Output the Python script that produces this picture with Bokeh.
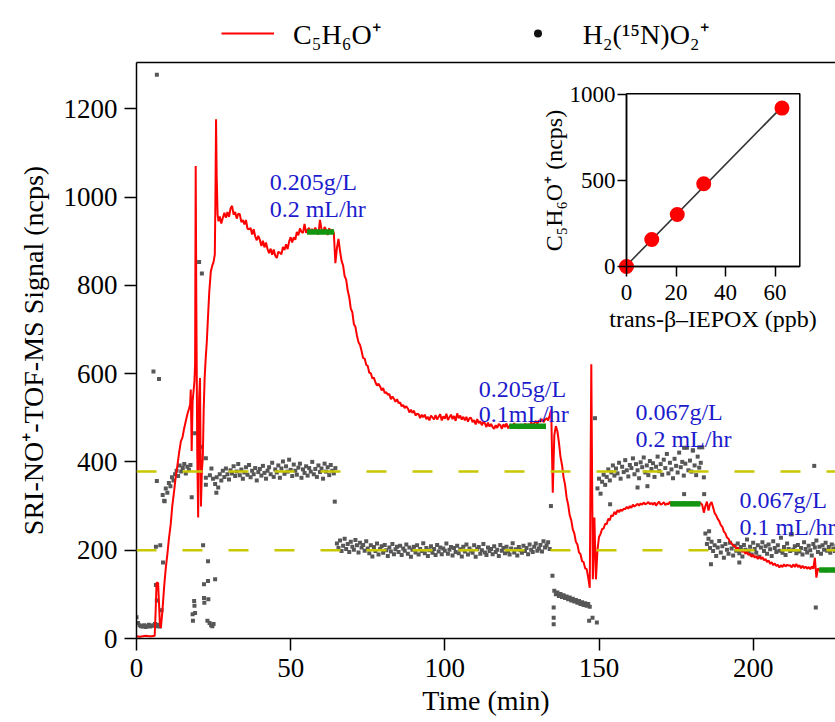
import numpy as np
from bokeh.plotting import figure
from bokeh.layouts import column
from bokeh.models import Range1d, LinearAxis, FixedTicker, Legend, LegendItem, Span
from bokeh.core.properties import value
from bokeh.embed import file_html
from bokeh.resources import INLINE

FONT = "Liberation Serif"

# ---------------- data ----------------
x_ticks = [0, 50, 100, 150, 200]
y_ticks = [0, 200, 400, 600, 800, 1000, 1200]
inset_x_ticks = [0, 20, 40, 60]
inset_y_ticks = [0, 500, 1000]

# C5H6O+ signal (red line)
red_early_t = [0, 1, 2, 3, 4, 5, 5.9, 6.2, 6.5, 7.0, 7.3, 7.6, 7.9, 8.4, 9.0, 9.5, 10.0, 10.5,
               11.1, 11.6, 12.2, 12.7, 13.3, 13.8, 14.4, 14.9, 15.4, 15.9, 16.5, 17.0, 17.4,
               17.6, 17.9, 18.2, 18.5, 18.8, 19.0, 19.2, 19.4, 19.7, 20.0, 20.3, 20.6, 20.9,
               21.2, 21.5, 21.8, 22.1, 22.4, 22.8, 23.2, 23.6, 24.1, 24.6, 25.0, 25.4, 25.6,
               25.8, 26.0, 26.3, 26.6]
red_early_v = [5, 4, 5, 6, 5, 5, 6, 60, 126, 126, 80, 30, 24, 62, 120, 160, 190, 225,
               259, 300, 334, 365, 394, 420, 447, 455, 474, 490, 508, 520, 530,
               564, 425, 538, 560, 583, 620, 1070, 760, 420, 274, 544, 590, 299,
               380, 408, 520, 589, 630, 672, 730, 785, 831, 845, 853, 870, 1000,
               1176, 1050, 960, 945]
red_main_start = 27.0
red_step = 0.5
red_main_v = [
    956, 940, 953, 964, 953, 966, 955, 974, 980, 960, 966, 951, 962, 961, 943, 948, 938, 948, 928, 927,
    930, 915, 927, 911, 902, 912, 903, 889, 901, 886, 897, 882, 873, 883, 869, 881, 867, 862, 876, 874,
    870, 887, 880, 893, 882, 899, 909, 897, 909, 903, 921, 913, 929, 921, 919, 939, 919, 926, 930, 917,
    928, 917, 931, 920, 915, 948, 927, 918, 932, 925, 914, 929, 921, 926, 918, 850, 884, 905, 878, 856,
    845, 821, 813, 788, 773, 747, 739, 712, 706, 686, 671, 665, 651, 635, 634, 620, 617, 602, 601, 589,
    591, 580, 573, 577, 571, 562, 567, 556, 558, 552, 554, 542, 548, 543, 536, 542, 533, 535, 526, 529,
    522, 526, 521, 512, 518, 511, 516, 505, 509, 508, 499, 507, 501, 507, 497, 502, 494, 505, 501, 496,
    506, 496, 502, 508, 494, 503, 498, 509, 495, 501, 507, 497, 504, 493, 510, 499, 505, 496, 502, 494,
    502, 491, 499, 500, 490, 495, 485, 497, 488, 492, 483, 491, 487, 479, 489, 480, 486, 479, 475, 483,
    477, 486, 483, 475, 485, 479, 487, 476, 482, 484, 477, 488, 478, 483, 475, 485, 482, 476, 487, 479,
    486, 480, 490, 484, 488, 493, 486, 494, 491, 497, 490, 496, 499, 494, 505, 518, 330, 460, 481, 470,
    444, 412, 393, 365, 348, 319, 303, 279, 268, 247, 238, 219, 213, 195, 191, 175, 173, 159, 157, 138,
    115, 621, 134, 274, 134, 200, 230, 237, 248, 249, 260, 259, 271, 268, 279, 277, 287, 281, 291, 286,
    292, 289, 294, 293, 298, 294, 300, 296, 303, 299, 302, 305, 301, 306, 303, 308, 304, 306, 309, 304,
    307, 303, 308, 301, 306, 310, 303, 305, 309, 302, 306, 304, 310, 301, 307, 305, 302, 308, 304, 306,
    303, 309, 305, 301, 307, 304, 310, 302, 306, 308, 303, 305, 307, 302, 285, 300, 310, 290, 304, 309,
    297, 284, 279, 271, 266, 257, 253, 242, 238, 229, 226, 218, 216, 210, 210, 204, 206, 199, 201, 196,
    199, 192, 196, 189, 192, 185, 190, 183, 187, 180, 186, 180, 184, 177, 180, 173, 177, 169, 173, 166,
    170, 164, 167, 161, 166, 162, 168, 163, 167, 165, 166, 161, 168, 162, 169, 162, 166, 159, 165, 159,
    163, 158, 162, 157, 163, 158, 183, 138, 159, 154, 157, 152, 157, 151, 156, 153, 155, 152, 156, 151,
    154]

# H2(15N)O2+ signal (grey dots), sampled every 0.5 min in runs
gray_step = 0.5
gray_a_start = 0.0
gray_a_v = [48, 35, 30, 28, 27, 30, 26, 28, 31, 27, 29, 30, 33, 28, 31, 27]
gray_b_start = 8.5
gray_b_v = [325, 312, 340, 330, 352, 345, 365, 358, 372, 380, 368, 392, 378, 386, 395, 374, 389, 382, 393]
gray_c_start = 25.5
gray_c_v = [
    350, 365, 342, 372, 358, 380, 366, 385, 372, 360, 381, 374, 390, 368, 378, 395, 370, 383, 362, 376,
    388, 371, 393, 365, 380, 372, 386, 358, 377, 384, 369, 391, 375, 362, 380, 388, 372, 398, 366, 383,
    376, 392, 364, 385, 401, 373, 390, 378, 405, 382, 368, 394, 380, 371, 387, 396, 364, 383, 375, 390,
    369, 386, 378, 400, 372, 384, 366, 392, 377, 385, 362, 396, 378, 388, 370, 393, 380, 374, 386]
gray_d_start = 65.0
gray_d_v = [
    215, 205, 222, 198, 210, 226, 203, 214, 196, 219, 208, 201, 223, 211, 195, 217, 206, 212, 199, 220,
    204, 193, 211, 186, 207, 198, 215, 190, 203, 209, 194, 212, 200, 187, 206, 197, 214, 191, 202, 208,
    196, 210, 189, 204, 199, 213, 192, 206, 185, 201, 208, 195, 211, 190, 203, 198, 216, 193, 205, 187,
    200, 209, 194, 203, 189, 212, 197, 206, 191, 204, 199, 215, 192, 201, 207, 188, 205, 196, 210, 193,
    202, 186, 208, 197, 213, 190, 204, 199, 194, 211, 185, 203, 207, 192, 200, 214, 195, 189, 206, 198,
    203, 191, 209, 196, 201, 187, 212, 199, 205, 193, 208, 197, 190, 204, 216, 195, 202, 188, 207, 200,
    194, 210, 198, 205, 191, 213, 201, 196, 208, 215, 199, 204, 212, 197, 220, 206, 211, 218, 203]
gray_e_start = 135.5
gray_e_v = [108, 100, 104, 96, 101, 94, 98, 92, 95, 89, 93, 86, 90, 84, 87, 81, 85, 78, 82, 76, 80, 74, 78, 72]
gray_f_start = 149.5
gray_f_v = [
    340, 362, 328, 355, 371, 348, 366, 383, 358, 376, 392, 369, 385, 374, 398, 362, 389, 377, 404, 381,
    367, 393, 386, 408, 372, 395, 381, 363, 399, 388, 410, 376, 392, 370, 402, 384, 397, 366, 389, 412,
    379, 395, 371, 405, 386, 418, 374, 398, 383, 363, 407, 391, 376, 421, 388, 400, 369, 396, 432, 381,
    403, 378, 426, 392, 370, 412, 387, 398, 433, 365]
gray_g_start = 184.5
gray_g_v = [
    238, 214, 226, 205, 219, 198, 211, 187, 206, 221, 195, 209, 183, 214, 201, 192, 217, 204, 188, 210,
    199, 215, 193, 207, 186, 212, 201, 224, 196, 208, 190, 217, 203, 194, 211, 185, 206, 218, 198, 209,
    192, 213, 202, 187, 220, 205, 196, 211, 199, 228, 194, 207, 189, 215, 203, 198, 236, 201, 209, 193,
    212, 197, 205, 190, 218, 203, 195, 210, 200, 188, 214, 206, 222, 196, 208, 192, 211, 201, 217, 199,
    207, 194, 213, 203, 198, 210]
gray_out_t = [6.6, 5.5, 7.3, 6.3, 6.6, 8.1, 6.3, 7.7, 8.6, 6.6, 9.1,
              17.9, 19.0, 18.2, 18.3, 18.7, 18.8, 19.0, 20.3, 21.2, 21.2, 21.6, 21.9, 21.9, 22.0,
              22.5, 22.5, 22.5, 23.2, 23.2, 23.3, 23.0, 23.7, 24.2, 24.6, 25.0, 25.5, 25.9, 23.8,
              24.3, 24.8,
              64.3, 134.4, 134.9, 135.3, 135.3, 135.3, 146.8, 147.9, 149.3, 148.7, 153.6, 162.5,
              165.7, 177.6, 182.5, 180.4, 177.6, 184.1, 185.7, 186.3, 195.5, 212.2, 219.8, 220.3]
gray_out_v = [1277, 605, 588, 121, 86, 64, 208, 211, 172, 357, 311,
              320, 465, 55, 40, 85, 74, 58, 853, 827, 434, 211, 123, 92, 81,
              408, 364, 348, 175, 130, 89, 40, 35, 30, 28, 33, 134, 330, 370,
              385, 362,
              310, 300, 142, 70, 47, 32, 40, 47, 36, 499, 304, 342,
              345, 432, 433, 426, 327, 327, 243, 168, 172, 236, 391, 70]

# steady-state windows (green bars)
green_t0 = [55.3, 120.9, 173.1, 221.4]
green_t1 = [64.1, 132.8, 182.9, 240.0]
green_v = [921, 481, 305, 155]

# reference levels (yellow dashed)
ref_levels = [378, 200]

# annotations
ann_text = ["0.205g/L", "0.2 mL/hr", "0.205g/L", "0.1mL/hr",
            "0.067g/L", "0.2 mL/hr", "0.067g/L", "0.1 mL/hr"]
ann_x = [43.2, 43.2, 111.0, 111.0, 161.8, 161.8, 195.6, 195.6]
ann_y = [1033, 973, 566, 509, 513, 452, 313, 252]

# inset calibration
inset_x = [0, 10.2, 20.5, 31.2, 62.8]
inset_y = [0, 157, 302, 481, 921]
inset_x_lim = (0, 70)
inset_y_lim = (0, 1005)

legend_labels = ["C\u2085H\u2086O\u207a", "H\u2082(\u00b9\u2075N)O\u2082\u207a"]

# ---------------- layout ----------------
W, H = 835, 722
LEG_H = 60                      # legend strip on top
MAIN_H = H - LEG_H
FL, FT, FB = 136, 62, 638       # frame edges in page pixels
PX_PER_X = 3.0834
PX_PER_Y = 0.4415

RED = "#ff0000"
GREY = "#575757"

p = figure(width=W, height=MAIN_H, output_backend="svg", toolbar_location=None,
           x_range=Range1d(0, (W - FL) / PX_PER_X),
           y_range=Range1d(0, (FB - FT) / PX_PER_Y),
           min_border_left=FL, min_border_right=0, min_border_top=FT - LEG_H,
           min_border_bottom=H - FB, outline_line_color=None,
           background_fill_color="white", border_fill_color="white")
p.xgrid.visible = False
p.ygrid.visible = False

# inset ranges mapped onto a sub-rectangle of the frame (page pixels)
IX0, IX1, IY0, IY1 = 626.0, 799.3, 266.0, 94.0
kx = (inset_x_lim[1] - 0) / (IX1 - IX0)
ky = 1000.0 / (IY0 - IY1)
p.extra_x_ranges = {"ix": Range1d(-(IX0 - FL) * kx, 70 + (W - IX1) * kx)}
p.extra_y_ranges = {"iy": Range1d(-(FB - IY0) * ky, 1000 + (IY1 - FT) * ky)}


def style_axis(ax, tick_fs, label_fs, tick_out, lab_standoff, axlab_standoff):
    ax.axis_line_width = 1.5
    ax.axis_line_color = "black"
    ax.major_tick_line_width = 1.5
    ax.major_tick_line_color = "black"
    ax.major_tick_in = 0
    ax.major_tick_out = tick_out
    ax.minor_tick_in = 0
    ax.minor_tick_out = 0
    ax.major_label_text_font = FONT
    ax.major_label_text_font_size = tick_fs
    ax.major_label_text_color = "black"
    ax.major_label_standoff = lab_standoff
    ax.axis_label_text_font = FONT
    ax.axis_label_text_font_size = label_fs
    ax.axis_label_text_font_style = "normal"
    ax.axis_label_text_color = "black"
    ax.axis_label_standoff = axlab_standoff


xax = p.xaxis[0]
xax.ticker = FixedTicker(ticks=x_ticks)
xax.axis_label = "Time (min)"
style_axis(xax, "27px", "28px", 12, 8, 5)
yax = p.yaxis[0]
yax.ticker = FixedTicker(ticks=y_ticks)
yax.axis_label = "SRI-NO\u207a-TOF-MS Signal (ncps)"
style_axis(yax, "27px", "28px", 12, 7, 12)

top = LinearAxis(ticker=FixedTicker(ticks=[]), major_label_text_font_size="0px")
top.axis_line_width = 1.5
top.major_tick_out = 0
top.minor_tick_out = 0
top.major_label_standoff = 0
p.add_layout(top, "above")

# grey dots
runs = [(gray_a_start, gray_a_v), (gray_b_start, gray_b_v), (gray_c_start, gray_c_v),
        (gray_d_start, gray_d_v), (gray_e_start, gray_e_v), (gray_f_start, gray_f_v),
        (gray_g_start, gray_g_v)]
gray_t = np.concatenate([s + gray_step * np.arange(len(v)) for s, v in runs] + [np.array(gray_out_t)])
gray_v = np.concatenate([np.array(v, dtype=float) for _, v in runs] + [np.array(gray_out_v, dtype=float)])
p.scatter(gray_t, gray_v, marker="square", size=4, fill_color=GREY, line_color=None)

for lvl in ref_levels:
    p.add_layout(Span(location=lvl, dimension="width", line_color="#c8c800",
                      line_width=2.5, line_dash="20 26"))

red_t = np.concatenate([np.array(red_early_t, dtype=float),
                        red_main_start + red_step * np.arange(len(red_main_v))])
red_v = np.concatenate([np.array(red_early_v, dtype=float), np.array(red_main_v, dtype=float)])
p.line(red_t, red_v, line_color=RED, line_width=2)

p.segment(x0=green_t0, y0=green_v, x1=green_t1, y1=green_v, line_color="#129612", line_width=5.5)

p.text(x=ann_x, y=ann_y, text=ann_text, text_font=value(FONT), text_font_size="24px",
       text_color="#1b1bcc", text_align="left", text_baseline="alphabetic")

# ---------------- inset ----------------
p.quad(left=[inset_x_lim[0]], right=[inset_x_lim[1]], bottom=[inset_y_lim[0]], top=[inset_y_lim[1]],
       x_range_name="ix", y_range_name="iy", fill_color="white", line_color="black", line_width=1.5)
slope, icpt = np.polyfit(inset_x, inset_y, 1)
fx = [min(inset_x), max(inset_x)]
p.line(fx, [slope * v + icpt for v in fx], x_range_name="ix", y_range_name="iy",
       line_color="#333333", line_width=1.6)
p.scatter(inset_x, inset_y, size=15, fill_color=RED, line_color=None,
          x_range_name="ix", y_range_name="iy")

iyax = LinearAxis(x_range_name="ix", y_range_name="iy", fixed_location=0,
                  bounds=(0, 1000), ticker=FixedTicker(ticks=inset_y_ticks),
                  axis_label="C\u2085H\u2086O\u207a (ncps)")
style_axis(iyax, "23px", "24px", 9, 2, 0)
p.add_layout(iyax, "left")
ixax = LinearAxis(x_range_name="ix", y_range_name="iy", fixed_location=0,
                  bounds=inset_x_lim, ticker=FixedTicker(ticks=inset_x_ticks),
                  axis_label="trans-\u03b2\u2013IEPOX (ppb)")
style_axis(ixax, "23px", "24px", 10, 8, 3)
p.add_layout(ixax, "below")

# ---------------- legend strip (frame is aligned with the main frame) ----------------
lp = figure(width=W, height=LEG_H, output_backend="svg", toolbar_location=None,
            x_range=Range1d(0, 1), y_range=Range1d(0, 1),
            x_axis_location=None, y_axis_location=None, min_border=0,
            outline_line_color=None, background_fill_color="white", border_fill_color="white")
lp.xgrid.visible = False
lp.ygrid.visible = False
# renderers only used for the legend swatches (placed outside the visible range)
leg_line = lp.line(x=[-5, -4], y=[-5, -5], line_color=RED, line_width=2)
leg_dot = lp.scatter(x=[-5], y=[-5], marker="circle", size=3.5, fill_color="#111111", line_color=None)
legend = Legend(items=[LegendItem(label=legend_labels[0], renderers=[leg_line]),
                       LegendItem(label=legend_labels[1], renderers=[leg_dot])],
                orientation="horizontal", location=(221 - FL, 8), glyph_width=53,
                label_standoff=19, spacing=130, padding=0, margin=0,
                border_line_color=None, background_fill_alpha=0,
                label_text_font=FONT, label_text_font_size="28px", label_text_color="black")
lp.add_layout(legend, "center")

page = column(lp, p, spacing=0)
open("out.html", "w").write(file_html(page, INLINE, title="chart"))
